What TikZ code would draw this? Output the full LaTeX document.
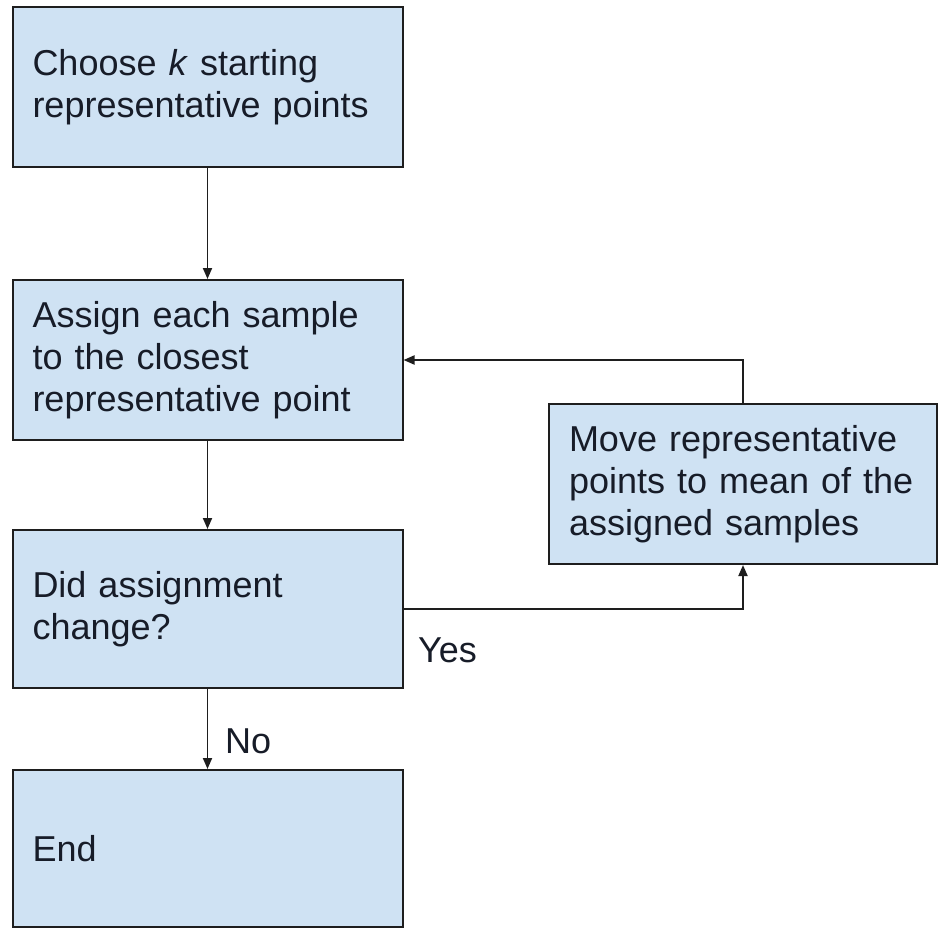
\documentclass[tikz,border=0pt]{standalone}
\usepackage{fontspec}
\setmainfont{Liberation Sans}
\usetikzlibrary{arrows.meta}
\definecolor{boxfill}{HTML}{CFE2F3}
\definecolor{boxline}{HTML}{1E1E1E}
\definecolor{boxtext}{HTML}{171C28}

\begin{document}
\begin{tikzpicture}[x=1pt, y=-1pt,
        box/.style={draw=boxline, fill=boxfill, line width=2pt, text=boxtext,
            minimum width=390pt, minimum height=160pt, text width=350pt,
            inner xsep=20pt, align=left, font=\fontsize{36}{42}\selectfont},
        flow/.style={draw=boxline, line width=1.9pt, -{Triangle[length=11pt,width=9pt]}},
        lbl/.style={inner sep=0pt, text=boxtext, font=\fontsize{36}{42}\selectfont}]
        \useasboundingbox (0,0) rectangle (941,928);
        % steps of the loop
        \node[box] (choose) at (207.5,87) {Choose \textit{k} starting\\representative points};
        \node[box] (assign) at (207.5,360) {Assign each sample\\to the closest\\representative point};
        \node[box, minimum height=158pt] (check) at (207.5,609) {Did assignment\\change?};
        \node[box, minimum height=157pt] (finish) at (207.5,848.5) {End};
        \node[box, minimum width=388pt, text width=348pt] (move) at (743,484) {Move representative\\points to mean of the\\assigned samples};
        % connectors
        \draw[flow] (choose) -- (assign);
        \draw[flow] (assign) -- (check);
        \draw[flow] (check) -- (finish);
        \draw[flow] (check) -| (move);
        \draw[flow] (move) |- (assign);
        \node[lbl, anchor=base west] (no) at (225,753) {No};
        \node[lbl, anchor=base west] (yes) at (418,662) {Yes};
    \end{tikzpicture}
\end{document}
